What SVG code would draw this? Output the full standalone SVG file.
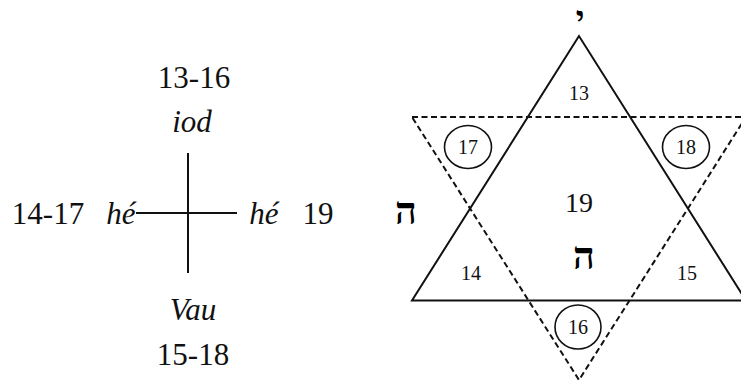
<svg xmlns="http://www.w3.org/2000/svg" width="741" height="381" viewBox="0 0 741 381">
<style>
text{fill:#111;text-anchor:middle}
.big{font-size:31px}
.it{font-size:31px;font-style:italic}
.heb{font-size:38px;font-weight:bold;fill:#000}
.yod{font-size:33px;font-weight:bold;fill:#000}
.sm{font-size:20px}
.mid{font-size:28px}
.ln{stroke:#111;stroke-width:2;fill:none}
.dash{stroke:#111;stroke-width:2;fill:none;stroke-dasharray:6 3.5}
.circ{stroke:#111;stroke-width:1.6;fill:none}
</style>
<rect width="741" height="381" fill="#fff"/>
<g id="connectors">
<line class="ln" x1="188" y1="153" x2="188" y2="273"/>
<line class="ln" x1="136" y1="213" x2="237" y2="213"/>
<polygon class="ln" points="579,36 412,300.5 746,300.5"/>
<polygon class="dash" points="412,117 746,117 579,380"/>
</g>
<g font-family="Liberation Serif, DejaVu Serif, serif">
<g id="cross-labels">
<text class="big" x="194" y="88">13-16</text>
<text class="it" x="192" y="132">iod</text>
<text class="big" x="48" y="224">14-17</text>
<text class="it" x="121" y="224">hé</text>
<text class="it" x="264" y="224">hé</text>
<text class="big" x="318" y="224">19</text>
<text class="it" x="193" y="320">Vau</text>
<text class="big" x="193" y="365">15-18</text>
</g>
<g id="hebrew">
<text class="yod" x="580" y="29">י</text>
<text class="heb" x="406" y="224">ה</text>
<text class="heb" x="749" y="224">ו</text>
<text class="heb" x="584" y="269">ה</text>
</g>
<g id="n13"><text class="sm" x="579" y="100">13</text></g>
<g id="n17"><ellipse class="circ" cx="468" cy="147" rx="23.5" ry="21.5"/><text class="sm" x="468" y="154">17</text></g>
<g id="n18"><ellipse class="circ" cx="686" cy="147" rx="23.5" ry="21.5"/><text class="sm" x="686" y="154">18</text></g>
<g id="n19"><text class="mid" x="579" y="212">19</text></g>
<g id="n14"><text class="sm" x="471" y="280">14</text></g>
<g id="n15"><text class="sm" x="687" y="280">15</text></g>
<g id="n16"><ellipse class="circ" cx="578" cy="327" rx="23" ry="22"/><text class="sm" x="578" y="334">16</text></g>
</g>
</svg>
